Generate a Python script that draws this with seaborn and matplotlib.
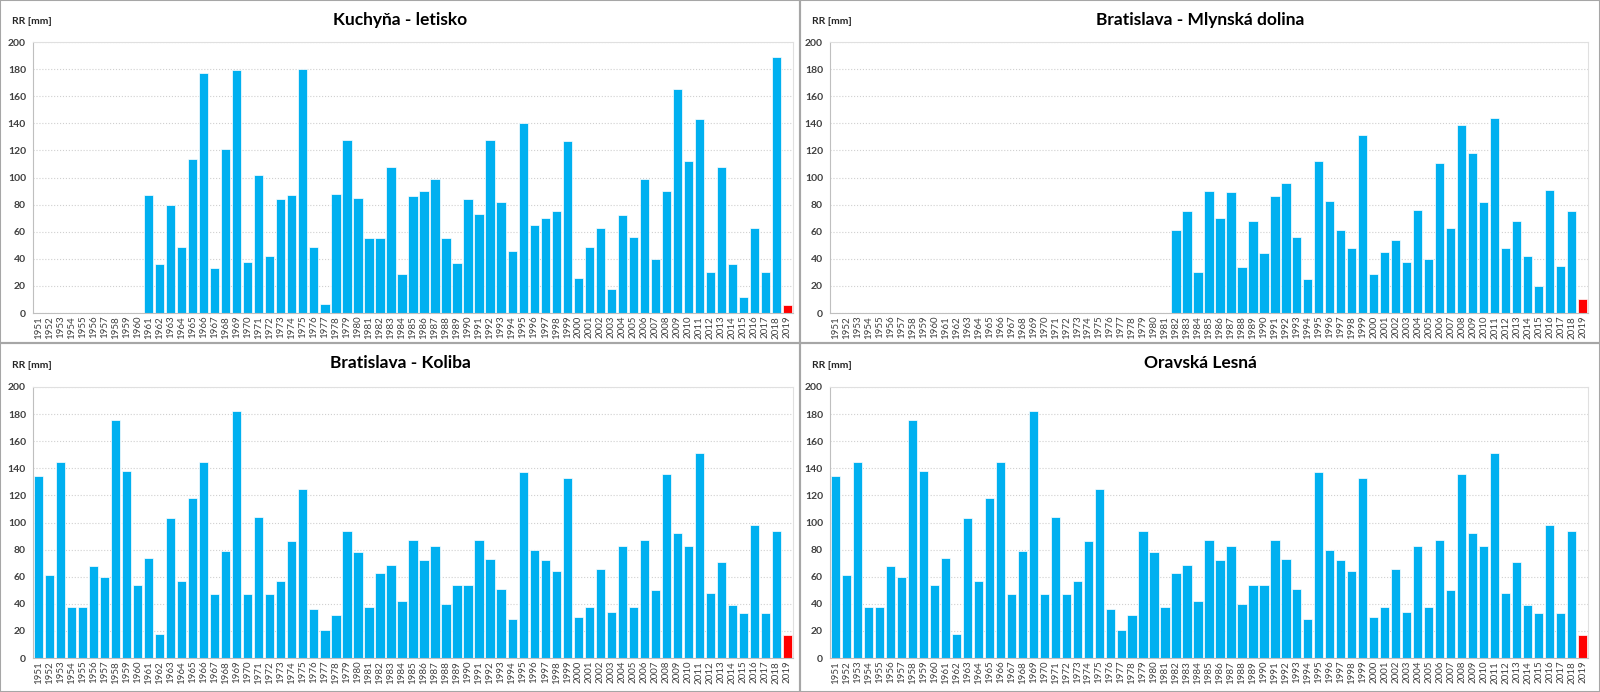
import numpy as np
import pandas as pd
import matplotlib
matplotlib.use('Agg')
import matplotlib.pyplot as plt
import seaborn as sns
from matplotlib.patches import Rectangle

years = [str(y) for y in range(1951, 2020)]

# RR [mm], None = no measurement
kuchyna = [None] * 10 + [
    87, 36, 80, 49, 114, 177, 33, 121, 179, 38,
    102, 42, 84, 87, 180, 49, 7, 88, 128, 85,
    55, 55, 108, 29, 86, 90, 99, 55, 37, 84,
    73, 128, 82, 46, 140, 65, 70, 75, 127, 26,
    49, 63, 18, 72, 56, 99, 40, 90, 165, 112,
    143, 30, 108, 36, 12, 63, 30, 189, 6]

mlynska = [None] * 31 + [
    61, 75, 30, 90, 70, 89, 34, 68, 44,
    86, 96, 56, 25, 112, 83, 61, 48, 131, 29,
    45, 54, 38, 76, 40, 111, 63, 139, 118, 82,
    144, 48, 68, 42, 20, 91, 35, 75, 10]

koliba = [
    134, 61, 145, 38, 38, 68, 60, 176, 138, 54,
    74, 18, 103, 57, 118, 145, 47, 79, 182, 47,
    104, 47, 57, 86, 125, 36, 21, 32, 94, 78,
    38, 63, 69, 42, 87, 72, 83, 40, 54, 54,
    87, 73, 51, 29, 137, 80, 72, 64, 133, 30,
    38, 66, 34, 83, 38, 87, 50, 136, 92, 83,
    151, 48, 71, 39, 33, 98, 33, 94, 17]

oravska = [
    134, 61, 145, 38, 38, 68, 60, 176, 138, 54,
    74, 18, 103, 57, 118, 145, 47, 79, 182, 47,
    104, 47, 57, 86, 125, 36, 21, 32, 94, 78,
    38, 63, 69, 42, 87, 72, 83, 40, 54, 54,
    87, 73, 51, 29, 137, 80, 72, 64, 133, 30,
    38, 66, 34, 83, 38, 87, 50, 136, 92, 83,
    151, 48, 71, 39, 33, 98, 33, 94, 17]

stations = [
    ('Kuchyňa - letisko', kuchyna),
    ('Bratislava - Mlynská dolina', mlynska),
    ('Bratislava - Koliba', koliba),
    ('Oravská Lesná', oravska),
]

sns.set_style('white')
plt.rcParams['font.family'] = ['Lato', 'DejaVu Sans']

fig = plt.figure(figsize=(16, 6.92), dpi=100)

# panel frames (pixels): x0, y0(top), w, h
frames = [(0, 0, 800, 343), (800, 0, 800, 343), (0, 343, 800, 349), (800, 343, 800, 349)]
axes_pos = [(33, 42, 760, 271), (830, 42, 758, 271), (33, 387, 760, 271), (830, 387, 758, 271)]

W, H = 1600, 692
palette = {False: '#00B0F0', True: '#FF0000'}

for (title, vals), fr, ap in zip(stations, frames, axes_pos):
    fx, fy, fw, fh = fr
    fig.patches.append(Rectangle((fx / W, 1 - (fy + fh) / H), fw / W, fh / H,
                                 transform=fig.transFigure, fill=False,
                                 edgecolor='#A6A6A6', linewidth=1.5))
    ax = fig.add_axes([ap[0] / W, 1 - (ap[1] + ap[3]) / H, ap[2] / W, ap[3] / H])
    df = pd.DataFrame({'year': years,
                       'rr': pd.to_numeric(pd.Series(vals), errors='coerce')})
    df['current'] = df['year'] == '2019'
    sns.barplot(data=df, x='year', y='rr', hue='current', palette=palette,
                order=years, dodge=False, width=0.84, legend=False, saturation=1,
                edgecolor='white', linewidth=0.5, ax=ax)
    ax.set_ylim(0, 200)
    ax.set_xlim(-0.5, len(years) - 0.5)
    ax.set_yticks(range(0, 201, 20))
    ax.yaxis.grid(True, color='#D0D0D0', linestyle=':', linewidth=0.8)
    ax.set_axisbelow(True)
    ax.set_xlabel('')
    ax.set_ylabel('')
    for s in ['top', 'right']:
        ax.spines[s].set_color('#E0E0E0')
    for s in ['left', 'bottom']:
        ax.spines[s].set_color('#BFBFBF')
    ax.tick_params(axis='y', length=3, color='#BFBFBF', pad=2, labelsize=7.5,
                   labelcolor='#404040')
    for t in ax.get_yticklabels():
        t.set_fontweight('bold')
    ax.set_xticks(range(len(years)))
    ax.set_xticklabels(years, rotation=90, fontsize=7, color='#404040')
    ax.tick_params(axis='x', length=0, pad=2)
    ax.set_xticks(np.arange(-0.5, len(years), 1), minor=True)
    ax.tick_params(axis='x', which='minor', length=4, color='#BFBFBF')

    fig.text((fx + fw / 2) / W, 1 - (fy + 20) / H, title, ha='center', va='center',
             fontsize=12.5, fontweight='bold', color='black')
    fig.text((fx + 12) / W, 1 - (fy + 22) / H, 'RR [mm]', ha='left', va='center',
             fontsize=7.5, fontweight='bold', color='#262626')

fig.savefig('out.png', dpi=100)
